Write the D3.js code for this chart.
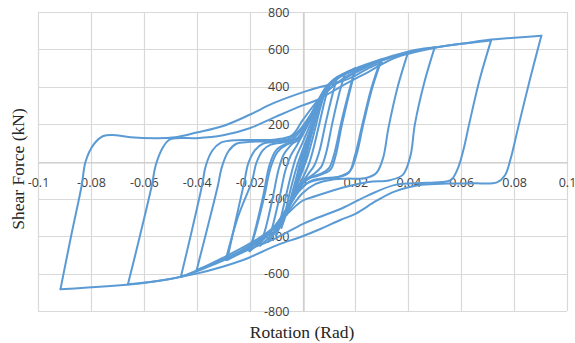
<!DOCTYPE html>
<html>
<head>
<meta charset="utf-8">
<script src="https://cdn.jsdelivr.net/npm/d3@7"></script>
<style>
  html, body { margin: 0; padding: 0; background: #ffffff; }
  svg { display: block; }
</style>
</head>
<body>
<svg id="chart" width="575" height="343"></svg>
<script>
// ---- Tick values / labels ----
const xTicks = [-0.1, -0.08, -0.06, -0.04, -0.02, 0, 0.02, 0.04, 0.06, 0.08, 0.1];
const xTickLabels = ["-0.1", "-0.08", "-0.06", "-0.04", "-0.02", "0", "0.02", "0.04", "0.06", "0.08", "0.1"];
const yTicks = [-800, -600, -400, -200, 0, 200, 400, 600, 800];
const yTickLabels = ["-800", "-600", "-400", "-200", "0", "200", "400", "600", "800"];
const xTitle = "Rotation (Rad)";
const yTitle = "Shear Force (kN)";

// ---- Hysteresis loops: [rotation (rad), shear force (kN)] ----
const loop1 = [[0,0],[0.002,95],[0.004,185],[0.0025,110],[0.001,30],[-0.001,-60],[-0.004,-190],[-0.0025,-110],[-0.001,-30],[0.001,60]];
const loop2 = [[0.003,150],[0.006,280],[0.0045,200],[0.0025,95],[0.001,10],[-0.002,-120],[-0.006,-285],[-0.0045,-200],[-0.0025,-95],[-0.001,-10],[0.001,90]];
const loop3 = [[0.004,210],[0.008,350],[0.0065,275],[0.0045,160],[0.002,30],[0,-50],[-0.003,-160],[-0.008,-355],[-0.0065,-270],[-0.0045,-150],[-0.002,-20],[0,60]];
const loop4 = [[0.003,170],[0.006,290],[0.01,405],[0.0085,330],[0.0065,210],[0.0045,90],[0.0025,-10],[0,-90],[-0.003,-170],[-0.007,-300],[-0.01,-395],[-0.0085,-320],[-0.0065,-200],[-0.0045,-80],[-0.0025,20],[0,100]];
const loop5 = [[0.003,200],[0.007,340],[0.01,410],[0.013,445],[0.011,340],[0.0085,190],[0.0065,60],[0.0045,-20],[0.002,-70],[-0.001,-130],[-0.005,-240],[-0.009,-350],[-0.013,-430],[-0.011,-330],[-0.0085,-180],[-0.0065,-50],[-0.0045,30],[-0.002,90],[0.001,170]];
const loop6 = [[0.004,270],[0.008,370],[0.012,440],[0.016,468],[0.0138,360],[0.0112,200],[0.009,50],[0.007,-30],[0.004,-70],[0.001,-100],[-0.003,-180],[-0.007,-290],[-0.011,-380],[-0.016,-450],[-0.0138,-350],[-0.0112,-190],[-0.009,-40],[-0.007,40],[-0.0045,85],[-0.0015,125]];
const loop7 = [[0.002,200],[0.005,300],[0.009,400],[0.013,450],[0.02,500],[0.0175,370],[0.0145,200],[0.012,40],[0.01,-35],[0.007,-65],[0.003,-85],[0,-120],[-0.004,-210],[-0.008,-300],[-0.013,-390],[-0.02,-480],[-0.0175,-360],[-0.0145,-190],[-0.012,-30],[-0.0095,50],[-0.006,90],[-0.002,110],[0.001,170]];
const loop8 = [[0.004,250],[0.008,370],[0.012,440],[0.02,495],[0.0176,360],[0.0148,190],[0.0125,30],[0.0105,-45],[0.006,-75],[0.002,-95],[-0.002,-150],[-0.006,-250],[-0.011,-360],[-0.015,-420],[-0.02,-478],[-0.0176,-350],[-0.0148,-180],[-0.0125,-20],[-0.01,60],[-0.006,95],[-0.002,115],[0.001,180]];
const loop9 = [[0.005,280],[0.009,380],[0.013,445],[0.02,498],[0.03,548],[0.0265,400],[0.023,200],[0.0205,40],[0.018,-50],[0.014,-80],[0.008,-90],[0.003,-105],[-0.001,-150],[-0.005,-240],[-0.01,-340],[-0.015,-410],[-0.021,-470],[-0.0285,-527],[-0.025,-300],[-0.022,-110],[-0.0205,-10],[-0.018,60],[-0.015,95],[-0.01,105],[-0.004,118],[-0.001,160]];
const loop10 = [[0.004,270],[0.008,370],[0.013,445],[0.022,505],[0.0295,540],[0.026,390],[0.0225,190],[0.0198,30],[0.0175,-60],[0.013,-85],[0.007,-95],[0.002,-115],[-0.003,-190],[-0.008,-300],[-0.014,-400],[-0.02,-460],[-0.029,-525],[-0.0245,-300],[-0.019,-100],[-0.0175,-10],[-0.015,60],[-0.012,90],[-0.006,105],[-0.002,125],[0.001,190]];
const loop11 = [[0.005,300],[0.009,390],[0.014,450],[0.02,490],[0.03,548],[0.04,588],[0.036,400],[0.0325,180],[0.0305,20],[0.028,-60],[0.024,-88],[0.016,-92],[0.01,-100],[0.005,-120],[0,-170],[-0.005,-260],[-0.01,-350],[-0.02,-450],[-0.03,-525],[-0.04,-580],[-0.0355,-330],[-0.032,-130],[-0.0305,-30],[-0.028,55],[-0.025,95],[-0.02,105],[-0.012,110],[-0.005,122],[-0.001,170]];
const loop12 = [[0.004,270],[0.009,370],[0.015,440],[0.025,515],[0.035,565],[0.043,598],[0.05,612],[0.046,420],[0.0425,200],[0.0408,30],[0.038,-70],[0.033,-100],[0.025,-110],[0.015,-140],[0.005,-185],[0,-210],[-0.005,-270],[-0.012,-365],[-0.02,-440],[-0.03,-515],[-0.04,-583],[-0.046,-618],[-0.042,-380],[-0.038,-130],[-0.0365,-20],[-0.034,60],[-0.031,100],[-0.027,112],[-0.02,115],[-0.01,118],[-0.004,140],[0,220]];
const loop13 = [[0.006,330],[0.012,410],[0.02,475],[0.03,540],[0.04,583],[0.05,610],[0.06,630],[0.0713,648],[0.067,440],[0.063,200],[0.0608,60],[0.0585,-45],[0.056,-100],[0.05,-112],[0.045,-115],[0.035,-125],[0.025,-180],[0.015,-250],[0.005,-305],[0,-335],[-0.01,-410],[-0.02,-470],[-0.03,-530],[-0.046,-617],[-0.066,-657],[-0.0615,-400],[-0.057,-130],[-0.0555,-20],[-0.053,70],[-0.0505,115],[-0.0475,125],[-0.04,125],[-0.03,140],[-0.02,178],[-0.01,240],[0,300],[0.0055,329],[0.015,405],[0.025,480],[0.035,555],[0.05,608],[0.06,630],[0.07,650],[0.08,662]];
const loop14 = [[0.0903,673],[0.086,440],[0.0815,180],[0.0786,10],[0.0765,-75],[0.0735,-112],[0.065,-117],[0.055,-118],[0.045,-125],[0.035,-160],[0.028,-210],[0.02,-280],[0.0143,-313],[0.007,-360],[0,-400],[-0.01,-450],[-0.023,-530],[-0.04,-600],[-0.06,-650],[-0.0915,-683],[-0.0875,-400],[-0.0835,-130],[-0.082,0],[-0.079,90],[-0.0755,135],[-0.072,142],[-0.065,130],[-0.055,125],[-0.048,130],[-0.04,155],[-0.03,190],[-0.02,250],[-0.011,312],[0,370],[0.007,400],[0.0143,427],[0.02,460],[0.025,500],[0.03,530]];

const loops = [loop1, loop2, loop3, loop4, loop5, loop6, loop7, loop8, loop9, loop10, loop11, loop12, loop13, loop14];
const trace = [].concat(...loops);

// split the trace into branches at the rotation reversals (peaks), so peaks stay sharp
const branches = [];
let current = [trace[0]];
for (let i = 1; i < trace.length; i++) {
  current.push(trace[i]);
  if (i < trace.length - 1) {
    const d1 = trace[i][0] - trace[i - 1][0];
    const d2 = trace[i + 1][0] - trace[i][0];
    if (d1 * d2 < 0) { branches.push(current); current = [trace[i]]; }
  }
}
branches.push(current);

// ---- Layout ----
const svg = d3.select("#chart");
const x = d3.scaleLinear().domain([-0.1, 0.1]).range([38, 567]);
const y = d3.scaleLinear().domain([-800, 800]).range([311, 12]);

const gridColor = "#d9d9d9";
const textColor = "#404040";

// gridlines
svg.append("g").selectAll("line").data(xTicks).join("line")
  .attr("x1", d => Math.round(x(d)) + 0.5).attr("x2", d => Math.round(x(d)) + 0.5)
  .attr("y1", y(800)).attr("y2", y(-800))
  .attr("stroke", gridColor).attr("stroke-width", 1.2);
svg.append("g").selectAll("line").data(yTicks).join("line")
  .attr("y1", d => Math.round(y(d)) + 0.5).attr("y2", d => Math.round(y(d)) + 0.5)
  .attr("x1", x(-0.1)).attr("x2", x(0.1))
  .attr("stroke", gridColor).attr("stroke-width", 1.2);

// axes through origin
const xAxis = d3.axisBottom(x).tickValues(xTicks).tickSize(0).tickPadding(16)
  .tickFormat((d, i) => xTickLabels[i]);
const yAxis = d3.axisLeft(y).tickValues(yTicks).tickSize(0).tickPadding(14)
  .tickFormat((d, i) => yTickLabels[i]);

const gx = svg.append("g").attr("transform", `translate(0,${Math.round(y(0)) + 0.5})`).call(xAxis);
const gy = svg.append("g").attr("transform", `translate(${Math.round(x(0)) + 0.5},0)`).call(yAxis);
[gx, gy].forEach(g => {
  g.select(".domain").attr("stroke", "#c8c8c8").attr("stroke-width", 1.2);
  g.selectAll("text").attr("fill", textColor)
    .style("font-family", "'Open Sans', sans-serif").style("font-size", "12.5px");
});

// the hysteresis trace
const line = d3.line()
  .x(d => x(d[0]))
  .y(d => y(d[1]))
  .curve(d3.curveCatmullRom.alpha(0.5));

svg.append("g").selectAll("path").data(branches).join("path")
  .attr("d", line)
  .attr("fill", "none")
  .attr("stroke", "#5b9bd5")
  .attr("stroke-width", 2)
  .attr("stroke-linejoin", "round")
  .attr("stroke-linecap", "round");

// axis titles
svg.append("text")
  .attr("x", 302).attr("y", 338)
  .attr("text-anchor", "middle")
  .attr("fill", "#262626")
  .style("font-family", "'Liberation Serif', 'Times New Roman', serif")
  .style("font-size", "17.5px")
  .text(xTitle);

svg.append("text")
  .attr("transform", "translate(24,169) rotate(-90)")
  .attr("text-anchor", "middle")
  .attr("fill", "#262626")
  .style("font-family", "'Liberation Serif', 'Times New Roman', serif")
  .style("font-size", "17.5px")
  .text(yTitle);
</script>
</body>
</html>
